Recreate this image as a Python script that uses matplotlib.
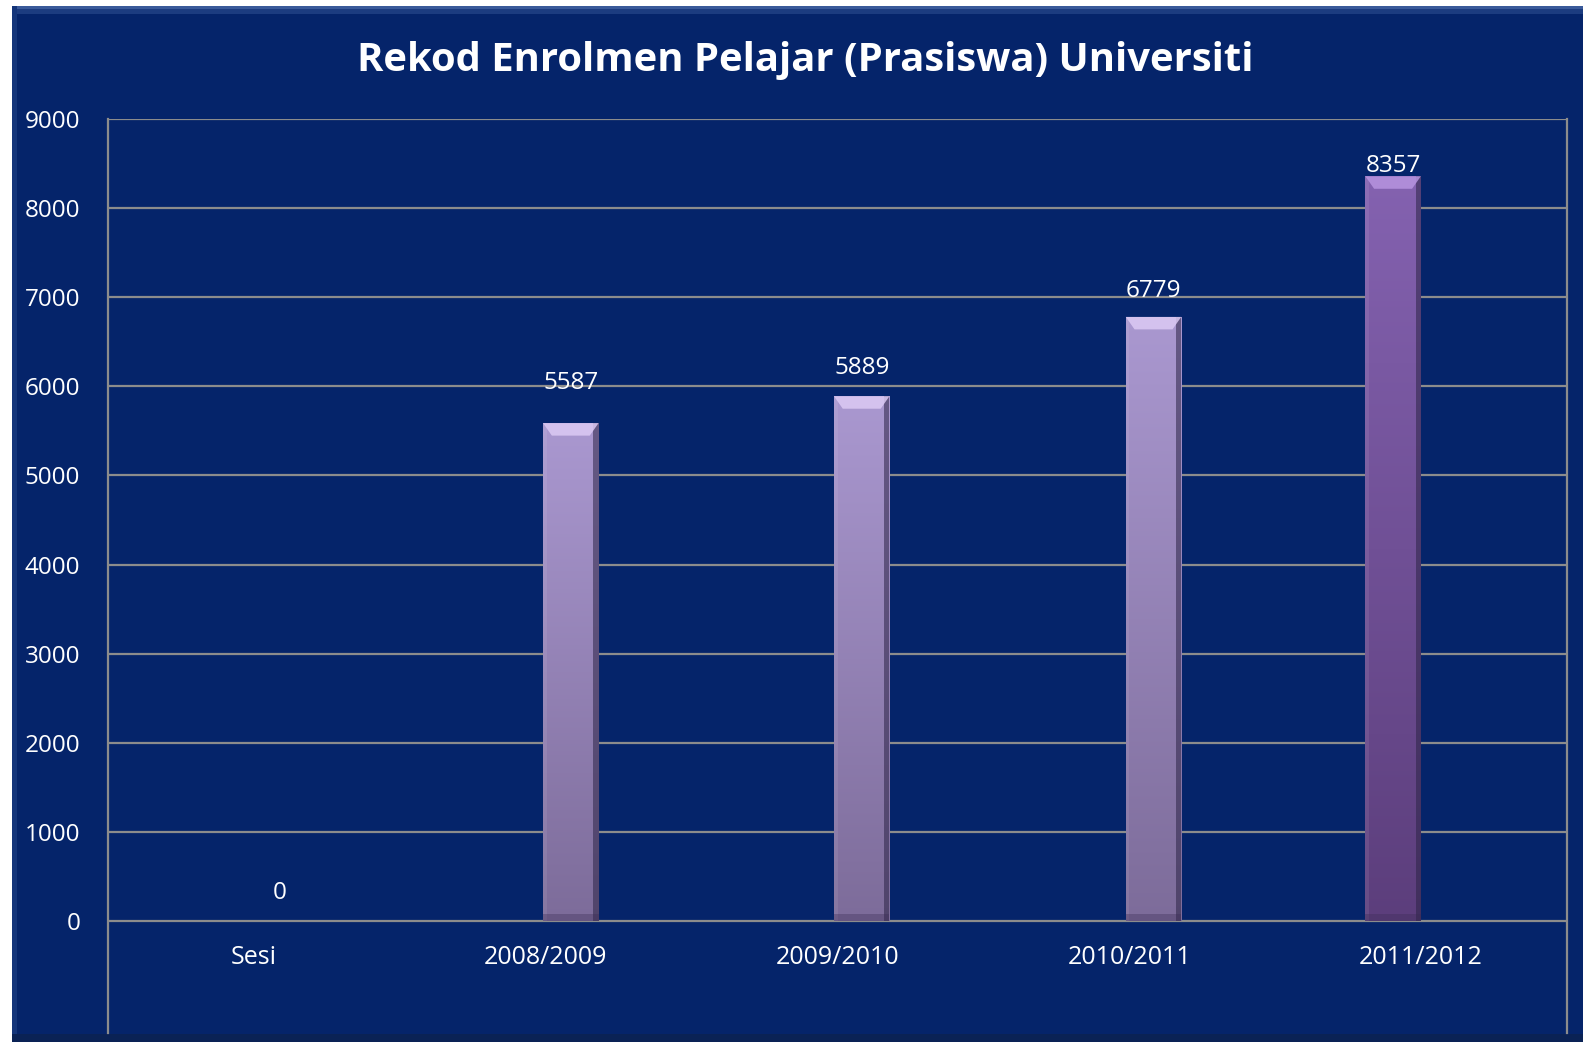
import matplotlib
matplotlib.use("Agg")
import matplotlib.pyplot as plt
import numpy as np
from matplotlib.patches import Rectangle, Polygon
from matplotlib.colors import LinearSegmentedColormap

categories = ["Sesi", "2008/2009", "2009/2010", "2010/2011", "2011/2012"]
values = [0, 5587, 5889, 6779, 8357]
yticks = [0, 1000, 2000, 3000, 4000, 5000, 6000, 7000, 8000, 9000]
title = "Rekod Enrolmen Pelajar (Prasiswa) Universiti"

# style
bar_offsets = [0.09, 0.086, 0.083, 0.083, -0.096]
label_offsets = [310, 450, 320, 295, 115]
bar_width = 0.19
navy = "#05246a"
plt.rcParams['font.family'] = ['Open Sans', 'DejaVu Sans']

W, H = 1583, 1042
fig = plt.figure(figsize=(W / 100, H / 100), dpi=100)
fig.patch.set_facecolor("white")

# background panel
bg = fig.add_axes([0, 0, 1, 1])
bg.set_xlim(0, W); bg.set_ylim(H, 0); bg.axis("off")
bg.add_patch(Rectangle((12, 6), W - 12, H - 6, facecolor=navy, edgecolor="none"))
bg.add_patch(Rectangle((12, 6), W - 12, 3, facecolor="#3a5a9a", edgecolor="none"))
bg.add_patch(Rectangle((12, 9), W - 12, 5, facecolor="#1c3c80", edgecolor="none"))
bg.add_patch(Rectangle((12, 6), 5, H - 6, facecolor="#14357a", edgecolor="none"))
bg.add_patch(Rectangle((12, 1034), W - 12, 8, facecolor="#0a2255", edgecolor="none"))

left, right, top, bottom = 108, 1567, 119, 1033
ax = fig.add_axes([left / W, (H - bottom) / H, (right - left) / W, (bottom - top) / H])
ax.set_facecolor("none")
ymin = -(bottom - 921) / ((921 - top) / 9000.0)
ax.set_ylim(ymin, 9000)
ax.set_xlim(-0.5, len(categories) - 0.5)

grid_c = "#8c8c8c"
for t in yticks:
    ax.axhline(t, color=grid_c, lw=1.6, zorder=1)
for s in ["left", "right"]:
    ax.spines[s].set_color(grid_c)
    ax.spines[s].set_linewidth(1.6)
for s in ["top", "bottom"]:
    ax.spines[s].set_visible(False)

ax.set_xticks([])
ax.set_yticks(yticks)
ax.set_yticklabels([str(t) for t in yticks], color="white", fontsize=17.5)
ax.tick_params(axis="y", length=0, pad=20)

def grad(c1, c2):
    return LinearSegmentedColormap.from_list("g", [c2, c1])

for i, (cat, v) in enumerate(zip(categories, values)):
    x = i + bar_offsets[i]
    if v > 0:
        if i == len(categories) - 1:
            ctop, cbot, cap = "#8462b0", "#5c3e7c", "#b794e0"
        else:
            ctop, cbot, cap = "#aa98d0", "#7d6c9a", "#dccaf4"
        bars = ax.bar(x, v, width=bar_width, color="none", edgecolor="none", zorder=3)
        b = bars[0]
        gradient = np.linspace(0, 1, 256).reshape(-1, 1)
        im = ax.imshow(gradient, cmap=grad(ctop, cbot), aspect="auto", origin="lower",
                       extent=[x - bar_width / 2, x + bar_width / 2, 0, v], zorder=3)
        im.set_clip_path(b)
        # side shading
        ax.add_patch(Rectangle((x + bar_width / 2 - 0.018, 0), 0.018, v,
                               facecolor="#2c2446", alpha=0.55, edgecolor="none", zorder=4))
        ax.add_patch(Rectangle((x - bar_width / 2, 0), 0.012, v,
                               facecolor="white", alpha=0.08, edgecolor="none", zorder=4))
        # top bevel cap
        capH = 140
        ax.add_patch(Polygon([[x - bar_width / 2, v], [x + bar_width / 2, v],
                              [x + bar_width / 2 - 0.03, v - capH], [x - bar_width / 2 + 0.03, v - capH]],
                             closed=True, facecolor=cap, edgecolor="none", alpha=0.85, zorder=5))
        ax.add_patch(Rectangle((x - bar_width / 2, 0), bar_width, 80,
                               facecolor="#3a2c55", alpha=0.35, edgecolor="none", zorder=5))
    # data labels
    ax.text(x, v + label_offsets[i], str(v), color="white", fontsize=17.5,
            ha="center", va="center", zorder=6)
    ax.text(i, -410, cat, color="white", fontsize=18, ha="center", va="center")

fig.text(805 / W, 1 - 61 / H, title, color="white", fontsize=28.8, fontweight="bold",
         ha="center", va="center")

fig.savefig("out.png", dpi=100, facecolor=fig.get_facecolor())
